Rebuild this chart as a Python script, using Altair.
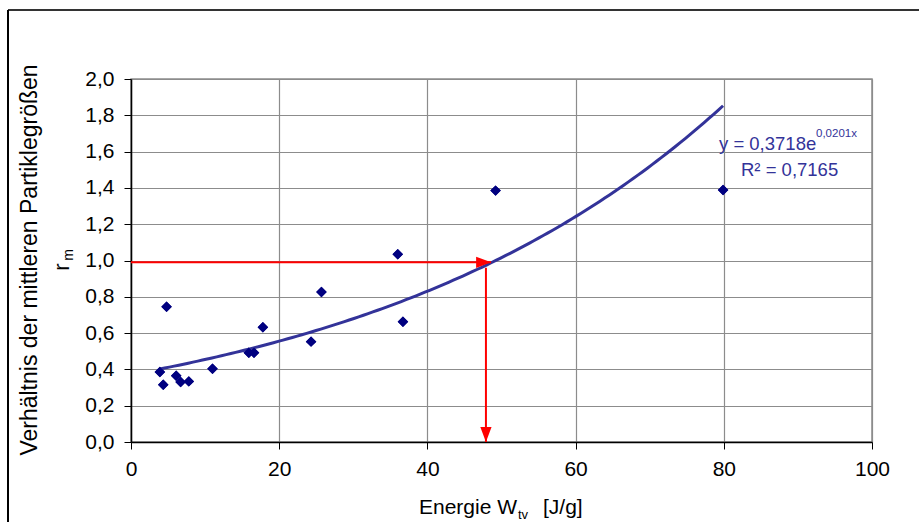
import altair as alt
import numpy as np
import pandas as pd

# Measured particle-size ratios against specific energy input
energie = [3.9, 4.35, 4.8, 6.1, 6.7, 7.8, 11.0, 15.9, 16.6, 17.8, 24.3, 25.7, 36.0, 36.7, 49.2, 79.9]
verhaeltnis = [0.386, 0.316, 0.745, 0.365, 0.33, 0.334, 0.404, 0.492, 0.492, 0.632, 0.553, 0.826, 1.034, 0.663, 1.385, 1.388]

# Exponential trend line y = a * exp(b * x)
trend_a = 0.3718
trend_b = 0.0201
r_squared = 0.7165

# Reading aid: horizontal arrow at r_m = 1 to the curve, vertical arrow down to the x axis
pfeil_h_x = [0.0, 48.6]
pfeil_h_y = [0.99, 0.99]
pfeil_v_x = [47.9, 47.9]
pfeil_v_y = [0.96, 0.0]

x_ticks = [0, 20, 40, 60, 80, 100]
y_ticks = [0.0, 0.2, 0.4, 0.6, 0.8, 1.0, 1.2, 1.4, 1.6, 1.8, 2.0]

FONT = "Liberation Sans"
W, H = 741, 363

pts = pd.DataFrame({"x": energie, "y": verhaeltnis})
xs = np.linspace(min(energie), max(energie), 120)
trend = pd.DataFrame({"x": xs, "y": trend_a * np.exp(trend_b * xs)})
arrow_h = pd.DataFrame({"x": pfeil_h_x, "y": pfeil_h_y})
arrow_v = pd.DataFrame({"x": pfeil_v_x, "y": pfeil_v_y})

xscale = alt.Scale(domain=[0, 100], nice=False)
yscale = alt.Scale(domain=[0, 2], nice=False)

xaxis = alt.Axis(values=x_ticks, tickCount=len(x_ticks), title=None, grid=True,
                 gridColor="#8c8c8c", gridWidth=1.2,
                 domainColor="#000000", domainWidth=1.5, tickColor="#000000", tickSize=7,
                 labelFont=FONT, labelFontSize=21, labelColor="#000000", labelPadding=9,
                 labelFlush=False, labelOverlap=False)
yaxis = alt.Axis(values=y_ticks, tickCount=len(y_ticks), title=None, grid=True,
                 gridColor="#8c8c8c", gridWidth=1.2,
                 domainColor="#000000", domainWidth=1.5, tickColor="#000000", tickSize=7,
                 labelFont=FONT, labelFontSize=21, labelColor="#000000", labelPadding=10,
                 labelOverlap=False, labelFlush=False,
                 labelExpr="replace(format(datum.value, '.1f'), '.', ',')")

X = alt.X("x:Q", scale=xscale, axis=xaxis)
Y = alt.Y("y:Q", scale=yscale, axis=yaxis)
Xn = alt.X("x:Q", scale=xscale)
Yn = alt.Y("y:Q", scale=yscale)

points = alt.Chart(pts).mark_point(shape="diamond", filled=True, size=110, color="#000080", opacity=1).encode(x=X, y=Y)

curve = alt.Chart(trend).mark_line(color="#333399", strokeWidth=3).encode(x=Xn, y=Yn)

red = "#ff0000"
line_h = alt.Chart(arrow_h).mark_line(color=red, strokeWidth=2).encode(x=Xn, y=Yn)
line_v = alt.Chart(arrow_v).mark_line(color=red, strokeWidth=2).encode(x=Xn, y=Yn)

head_h = alt.Chart(arrow_h.tail(1)).mark_point(
    shape="M0,0L-2,-0.75L-2,0.75Z", size=225, filled=True, color=red, opacity=1
).encode(x=Xn, y=Yn)
head_v = alt.Chart(arrow_v.tail(1)).mark_point(
    shape="M0,0L-0.75,-2L0.75,-2Z", size=225, filled=True, color=red, opacity=1
).encode(x=Xn, y=Yn)

one = alt.Data(values=[{}])


def label(text, x, y, size=21, color="#000000", align="left", angle=0):
    return alt.Chart(one).mark_text(
        text=text, font=FONT, fontSize=size, color=color, align=align,
        baseline="middle", angle=angle
    ).encode(x=alt.value(x), y=alt.value(y))


blue_txt = "#333399"
eq_main = label("y = 0,3718e", 588, 65, size=18.5, color=blue_txt)
eq_sup = label("0,0201x", 685, 55, size=11.5, color=blue_txt)
eq_r2 = label(f"R² = {str(r_squared).replace('.', ',')}", 610, 91, size=18.5, color=blue_txt)

x_title_a = label("Energie W", 386, 429, align="right")
x_title_b = label("tv", 387, 436, size=13)
x_title_c = label("[J/g]", 412, 429)

y_title_a = label("Verhältnis der mittleren Partiklegrößen", -101, 181, size=23, align="center", angle=270)
y_title_b = label("r", -69, 188, size=22, align="center", angle=270)
y_title_c = label("m", -62, 176, size=14, align="center", angle=270)

frame_top = alt.Chart(one).mark_rule(color="#333333", strokeWidth=2).encode(
    x=alt.value(-123), x2=alt.value(820), y=alt.value(-69))
frame_left = alt.Chart(one).mark_rule(color="#000000", strokeWidth=2).encode(
    x=alt.value(-123), y=alt.value(-69), y2=alt.value(460))

chart = alt.layer(
    points, curve, line_h, line_v, head_h, head_v, points,
    eq_main, eq_sup, eq_r2,
    x_title_a, x_title_b, x_title_c,
    y_title_a, y_title_b, y_title_c,
    frame_top, frame_left,
).properties(
    width=W, height=H,
    autosize=alt.AutoSizeParams(type="none"),
    padding={"left": 131, "top": 79, "right": 47, "bottom": 80},
    background="#ffffff",
).configure_view(stroke="#8c8c8c", strokeWidth=1.5)

chart.save("out.html", embed_options={"renderer": "svg", "actions": False})
